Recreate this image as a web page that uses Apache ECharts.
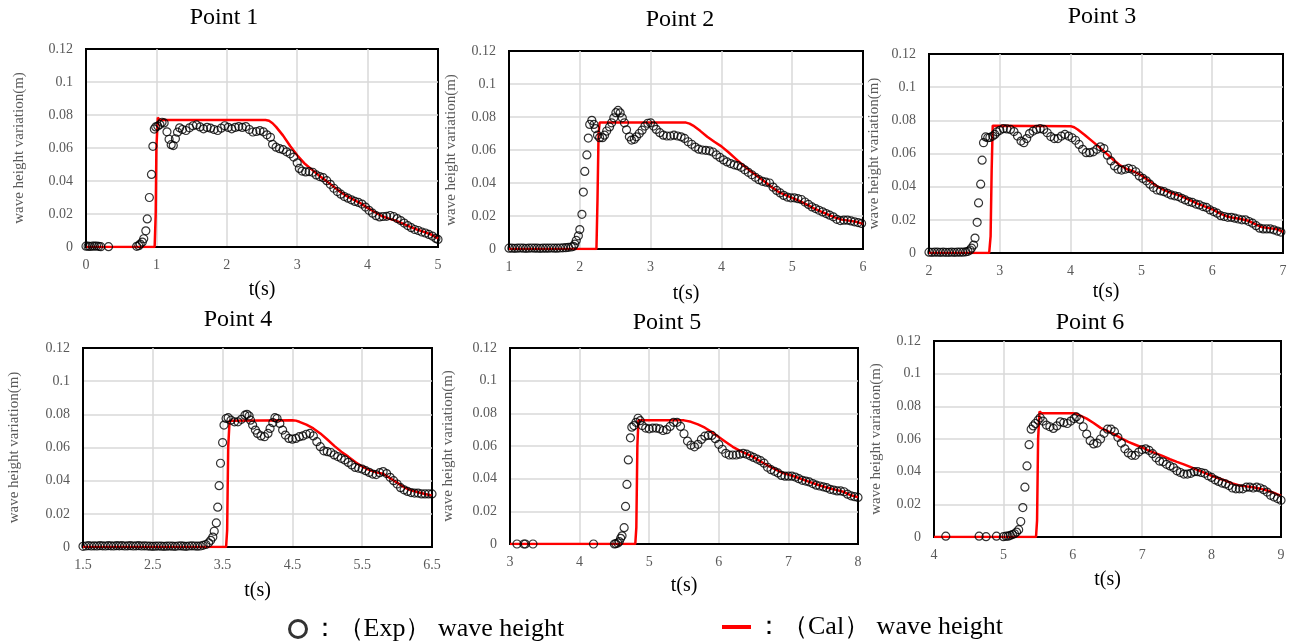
<!DOCTYPE html>
<html><head><meta charset="utf-8">
<script src="https://cdn.jsdelivr.net/npm/echarts@6/dist/echarts.min.js"></script>
<style>html,body{margin:0;padding:0;background:#fff}#c{width:1294px;height:644px}</style>
</head><body><div id="c"></div>
<script>
const panelTitles = ['Point 1','Point 2','Point 3','Point 4','Point 5','Point 6'];
const xMins = [0, 1, 2, 1.5, 3, 4];
const xMaxs = [5, 6, 7, 6.5, 8, 9];
const yMin = 0, yMax = 0.12, yStep = 0.02;
const yName = 'wave height variation(m)';
const xName = 't(s)';
const expLabel = '：（Exp） wave height';
const calLabel = '：（Cal） wave height';

const exp1 = [[0,0.0005],[0.03,0.0005],[0.06,0.0003],[0.09,0.0006],[0.12,0.0005],[0.15,0.0006],[0.18,0.0004],[0.21,0.0002],[0.32,0.0002],
[0.72,0.0004],[0.75,0.0008],[0.77,0.0018],[0.8,0.003],[0.82,0.005],[0.85,0.0098],[0.87,0.017],[0.9,0.03],[0.93,0.044],[0.95,0.061],[0.97,0.0715],[0.99,0.0728],[1.02,0.0733],[1.05,0.0742],[1.08,0.0756],[1.11,0.0752],[1.15,0.0698],[1.18,0.0653],[1.21,0.062],[1.24,0.0615],[1.27,0.0656],[1.3,0.0696],[1.33,0.0722],[1.37,0.0712],[1.42,0.0706],[1.47,0.0722],[1.52,0.0735],[1.57,0.074],[1.62,0.0728],[1.67,0.0716],[1.72,0.0725],[1.77,0.072],[1.82,0.0712],[1.87,0.0706],[1.92,0.072],[1.97,0.0735],[2.02,0.0725],[2.07,0.0716],[2.12,0.0725],[2.17,0.073],[2.22,0.0725],[2.27,0.073],[2.32,0.0712],[2.37,0.0697],[2.42,0.07],[2.47,0.0705],[2.52,0.0698],[2.57,0.068],[2.62,0.0665],[2.65,0.0622],[2.7,0.0605],[2.75,0.0596],[2.8,0.059],[2.85,0.0577],[2.9,0.0565],[2.95,0.0545],[3.0,0.051],[3.03,0.0476],[3.07,0.046],[3.12,0.0455],[3.17,0.0457],[3.22,0.0453],[3.27,0.0437],[3.32,0.0427],[3.37,0.042],[3.42,0.0402],[3.47,0.038],[3.52,0.0356],[3.57,0.0336],[3.62,0.032],[3.67,0.0306],[3.72,0.0296],[3.77,0.0286],[3.82,0.0276],[3.87,0.027],[3.92,0.026],[3.97,0.0242],[4.02,0.0222],[4.07,0.0205],[4.12,0.019],[4.17,0.0182],[4.22,0.0185],[4.27,0.0186],[4.32,0.0191],[4.37,0.0185],[4.42,0.0172],[4.47,0.016],[4.52,0.0145],[4.57,0.013],[4.62,0.0117],[4.67,0.0106],[4.72,0.01],[4.77,0.0091],[4.82,0.0085],[4.87,0.0076],[4.92,0.0066],[4.97,0.0052],[5.0,0.0046]];
const cal1 = [[0,0],[0.975,0],[0.99,0.02],[1.0,0.06],[1.02,0.0785],[1.04,0.077],[2.55,0.077],[2.6,0.0765],[2.65,0.075],[2.7,0.0728],[2.8,0.0675],[2.9,0.0612],[3.0,0.0556],[3.1,0.0508],[3.2,0.0472],[3.3,0.0437],[3.4,0.0405],[3.5,0.0372],[3.6,0.0338],[3.7,0.031],[3.8,0.0287],[3.9,0.0265],[4.0,0.0237],[4.1,0.0212],[4.2,0.0188],[4.3,0.0172],[4.4,0.016],[4.5,0.0142],[4.6,0.0123],[4.7,0.0106],[4.8,0.0092],[4.9,0.0076],[5.0,0.0052]];

const exp2 = [[1.0,0.0005],[1.04,0.0005],[1.08,0.0004],[1.12,0.0005],[1.16,0.0006],[1.2,0.0005],[1.24,0.0004],[1.28,0.0005],[1.32,0.0006],[1.36,0.0005],[1.4,0.0005],[1.44,0.0004],[1.48,0.0005],[1.52,0.0005],[1.56,0.0005],[1.6,0.0006],[1.64,0.0005],[1.68,0.0005],[1.72,0.0006],[1.76,0.0007],[1.8,0.0008],[1.84,0.001],[1.88,0.0012],[1.91,0.0016],[1.93,0.003],[1.95,0.0052],[1.98,0.008],[2.0,0.0118],[2.03,0.021],[2.05,0.0345],[2.07,0.047],[2.1,0.057],[2.12,0.0672],[2.14,0.0755],[2.17,0.078],[2.2,0.0755],[2.22,0.073],[2.25,0.069],[2.28,0.0675],[2.32,0.0675],[2.35,0.069],[2.38,0.0715],[2.42,0.074],[2.45,0.0765],[2.48,0.0795],[2.51,0.0826],[2.54,0.084],[2.57,0.0825],[2.6,0.0795],[2.63,0.0765],[2.66,0.0722],[2.7,0.068],[2.73,0.066],[2.77,0.0665],[2.8,0.068],[2.84,0.07],[2.88,0.072],[2.92,0.0745],[2.96,0.0762],[3.0,0.0765],[3.04,0.0745],[3.08,0.0725],[3.13,0.0705],[3.18,0.069],[3.23,0.0685],[3.28,0.0685],[3.33,0.069],[3.38,0.0685],[3.43,0.068],[3.48,0.067],[3.53,0.065],[3.58,0.0635],[3.63,0.0618],[3.68,0.0605],[3.73,0.06],[3.78,0.0598],[3.83,0.0595],[3.88,0.0588],[3.93,0.057],[3.98,0.0555],[4.03,0.054],[4.08,0.0528],[4.13,0.0518],[4.18,0.051],[4.23,0.0505],[4.28,0.0495],[4.33,0.048],[4.38,0.0465],[4.43,0.045],[4.48,0.0435],[4.53,0.042],[4.58,0.041],[4.63,0.0405],[4.68,0.04],[4.73,0.0375],[4.78,0.0355],[4.83,0.034],[4.88,0.0325],[4.93,0.0315],[4.98,0.031],[5.03,0.031],[5.08,0.0305],[5.13,0.03],[5.18,0.0285],[5.23,0.027],[5.28,0.0255],[5.33,0.0245],[5.38,0.0235],[5.43,0.0225],[5.48,0.0215],[5.53,0.0205],[5.58,0.0195],[5.63,0.018],[5.68,0.0172],[5.73,0.0175],[5.78,0.0175],[5.83,0.017],[5.88,0.0165],[5.93,0.016],[5.98,0.0155]];
const cal2 = [[1,0],[2.235,0],[2.25,0.03],[2.265,0.07],[2.28,0.0766],[3.5,0.0766],[3.55,0.076],[3.6,0.0748],[3.7,0.0716],[3.8,0.068],[3.9,0.065],[4.0,0.0622],[4.1,0.0586],[4.2,0.0548],[4.3,0.051],[4.4,0.0476],[4.5,0.0444],[4.6,0.0412],[4.7,0.0378],[4.8,0.0348],[4.9,0.0328],[5.0,0.031],[5.1,0.0292],[5.2,0.027],[5.3,0.0248],[5.4,0.0228],[5.5,0.021],[5.6,0.0192],[5.7,0.0178],[5.8,0.0172],[5.9,0.0165],[6.0,0.0152]];

const exp3 = [[2.0,0.0005],[2.04,0.0004],[2.08,0.0005],[2.12,0.0005],[2.16,0.0004],[2.2,0.0005],[2.24,0.0004],[2.28,0.0004],[2.32,0.0005],[2.36,0.0004],[2.4,0.0005],[2.44,0.0005],[2.48,0.0005],[2.52,0.0007],[2.55,0.001],[2.58,0.0018],[2.6,0.003],[2.63,0.0048],[2.65,0.009],[2.68,0.0185],[2.7,0.0302],[2.73,0.0415],[2.75,0.056],[2.77,0.0665],[2.8,0.07],[2.83,0.0695],[2.86,0.0697],[2.9,0.0705],[2.93,0.0715],[2.96,0.073],[3.0,0.074],[3.05,0.075],[3.1,0.0748],[3.15,0.0745],[3.2,0.0732],[3.25,0.0705],[3.3,0.0675],[3.34,0.0665],[3.38,0.069],[3.42,0.072],[3.47,0.0735],[3.52,0.0745],[3.57,0.075],[3.62,0.0745],[3.67,0.0725],[3.72,0.0702],[3.77,0.069],[3.82,0.069],[3.87,0.0705],[3.92,0.0715],[3.97,0.0705],[4.02,0.0695],[4.07,0.068],[4.12,0.0655],[4.17,0.0625],[4.22,0.0605],[4.27,0.0605],[4.32,0.061],[4.37,0.0625],[4.42,0.064],[4.47,0.063],[4.52,0.059],[4.57,0.0555],[4.62,0.0525],[4.67,0.0505],[4.72,0.05],[4.77,0.0505],[4.82,0.051],[4.87,0.0505],[4.92,0.049],[4.97,0.0465],[5.02,0.045],[5.07,0.0435],[5.12,0.0415],[5.17,0.0395],[5.22,0.038],[5.27,0.0375],[5.32,0.037],[5.37,0.036],[5.42,0.035],[5.47,0.0345],[5.52,0.034],[5.57,0.033],[5.62,0.032],[5.67,0.031],[5.72,0.0305],[5.77,0.0295],[5.82,0.029],[5.87,0.028],[5.92,0.0275],[5.97,0.026],[6.02,0.025],[6.07,0.024],[6.12,0.0225],[6.17,0.022],[6.22,0.0215],[6.27,0.0215],[6.32,0.021],[6.37,0.0205],[6.42,0.02],[6.47,0.02],[6.52,0.019],[6.57,0.018],[6.62,0.0165],[6.67,0.015],[6.72,0.0145],[6.77,0.0145],[6.82,0.0145],[6.87,0.014],[6.92,0.0132],[6.97,0.0126]];
const cal3 = [[2,0],[2.85,0],[2.87,0.01],[2.885,0.05],[2.9,0.0768],[4.0,0.0765],[4.05,0.0758],[4.1,0.0745],[4.2,0.0712],[4.3,0.0676],[4.4,0.064],[4.5,0.0602],[4.6,0.0564],[4.7,0.0528],[4.8,0.0505],[4.9,0.049],[5.0,0.0468],[5.1,0.0438],[5.2,0.0408],[5.3,0.0384],[5.4,0.0366],[5.5,0.0352],[5.6,0.0336],[5.7,0.0316],[5.8,0.0296],[5.9,0.028],[6.0,0.0264],[6.1,0.024],[6.2,0.0222],[6.3,0.0212],[6.4,0.0205],[6.5,0.0196],[6.6,0.0176],[6.7,0.0156],[6.8,0.015],[6.9,0.0145],[7.0,0.0128]];

const exp4 = [[1.5,0.0004],[1.54,0.0006],[1.58,0.0008],[1.62,0.0006],[1.66,0.0007],[1.7,0.0006],[1.74,0.0008],[1.78,0.0007],[1.82,0.0006],[1.86,0.0008],[1.9,0.0007],[1.94,0.0006],[1.98,0.0008],[2.02,0.0007],[2.06,0.0008],[2.1,0.0006],[2.14,0.0007],[2.18,0.0008],[2.22,0.0006],[2.26,0.0007],[2.3,0.0008],[2.34,0.0006],[2.38,0.0007],[2.42,0.0006],[2.46,0.0005],[2.5,0.0004],[2.54,0.0005],[2.58,0.0006],[2.62,0.0005],[2.66,0.0004],[2.7,0.0005],[2.74,0.0006],[2.78,0.0005],[2.82,0.0004],[2.86,0.0006],[2.9,0.0007],[2.94,0.0005],[2.98,0.0004],[3.02,0.0006],[3.06,0.0007],[3.1,0.0006],[3.14,0.0005],[3.18,0.0006],[3.22,0.001],[3.26,0.0015],[3.3,0.0025],[3.33,0.004],[3.36,0.006],[3.38,0.0095],[3.41,0.0145],[3.43,0.024],[3.45,0.037],[3.47,0.0505],[3.5,0.063],[3.52,0.0735],[3.55,0.0775],[3.58,0.078],[3.62,0.0765],[3.67,0.0755],[3.72,0.0755],[3.77,0.077],[3.82,0.0795],[3.85,0.08],[3.88,0.079],[3.9,0.0765],[3.93,0.0735],[3.97,0.0705],[4.0,0.0685],[4.05,0.067],[4.1,0.0665],[4.15,0.0685],[4.18,0.0715],[4.22,0.075],[4.25,0.078],[4.28,0.0775],[4.32,0.0745],[4.36,0.0705],[4.4,0.0675],[4.45,0.0655],[4.5,0.065],[4.55,0.0655],[4.6,0.0665],[4.65,0.067],[4.7,0.068],[4.75,0.0685],[4.8,0.067],[4.85,0.0635],[4.9,0.0605],[4.95,0.058],[5.0,0.0575],[5.05,0.057],[5.1,0.0555],[5.15,0.0545],[5.2,0.0535],[5.25,0.0525],[5.3,0.051],[5.35,0.0495],[5.4,0.048],[5.45,0.0475],[5.5,0.047],[5.55,0.046],[5.6,0.045],[5.65,0.044],[5.7,0.0437],[5.75,0.0448],[5.8,0.0455],[5.85,0.0443],[5.9,0.042],[5.95,0.04],[6.0,0.038],[6.05,0.0358],[6.1,0.0345],[6.15,0.0335],[6.2,0.0328],[6.25,0.0325],[6.3,0.0325],[6.35,0.032],[6.4,0.032],[6.45,0.032],[6.5,0.032]];
const cal4 = [[1.5,0],[3.55,0],[3.565,0.01],[3.58,0.06],[3.6,0.0762],[4.5,0.0765],[4.55,0.0762],[4.6,0.0755],[4.7,0.0738],[4.8,0.0715],[4.9,0.0685],[5.0,0.0648],[5.1,0.061],[5.2,0.0575],[5.3,0.0545],[5.4,0.0512],[5.5,0.0485],[5.6,0.0465],[5.7,0.045],[5.8,0.0442],[5.9,0.0415],[6.0,0.0388],[6.1,0.036],[6.2,0.0342],[6.3,0.033],[6.4,0.032],[6.5,0.031]];

const exp5 = [[3.1,0],[3.2,0],[3.22,0],[3.33,0],[4.2,0],[4.5,0],[4.52,0.0002],[4.55,0.0006],[4.57,0.0015],[4.59,0.0035],[4.61,0.005],[4.64,0.01],[4.66,0.023],[4.68,0.0365],[4.7,0.0515],[4.73,0.065],[4.75,0.0715],[4.78,0.0725],[4.81,0.0745],[4.84,0.077],[4.87,0.0755],[4.9,0.0725],[4.95,0.071],[5.0,0.0705],[5.05,0.071],[5.1,0.071],[5.15,0.0705],[5.2,0.0695],[5.25,0.07],[5.3,0.072],[5.35,0.0745],[5.4,0.0745],[5.45,0.072],[5.5,0.0675],[5.55,0.063],[5.6,0.0605],[5.65,0.0595],[5.7,0.061],[5.75,0.064],[5.8,0.066],[5.85,0.0665],[5.9,0.0665],[5.95,0.0645],[6.0,0.061],[6.05,0.058],[6.1,0.0555],[6.15,0.0545],[6.2,0.0545],[6.25,0.0545],[6.3,0.055],[6.35,0.0555],[6.4,0.055],[6.45,0.054],[6.5,0.053],[6.55,0.052],[6.6,0.051],[6.65,0.0495],[6.7,0.047],[6.75,0.0455],[6.8,0.0445],[6.85,0.0435],[6.9,0.042],[6.95,0.0415],[7.0,0.0415],[7.05,0.0415],[7.1,0.041],[7.15,0.04],[7.2,0.039],[7.25,0.0385],[7.3,0.038],[7.35,0.037],[7.4,0.036],[7.45,0.0355],[7.5,0.035],[7.55,0.0345],[7.6,0.0335],[7.65,0.033],[7.7,0.0325],[7.75,0.0325],[7.8,0.032],[7.85,0.0305],[7.9,0.0295],[7.95,0.029],[8.0,0.0285]];
const cal5 = [[3,0],[4.8,0],[4.815,0.01],[4.83,0.06],[4.845,0.0757],[5.5,0.0757],[5.6,0.0748],[5.7,0.0732],[5.8,0.0712],[5.9,0.0685],[6.0,0.0655],[6.1,0.0625],[6.2,0.0595],[6.3,0.0572],[6.4,0.0552],[6.5,0.0532],[6.6,0.0505],[6.7,0.0482],[6.8,0.046],[6.9,0.0438],[7.0,0.0425],[7.1,0.0412],[7.2,0.0396],[7.3,0.038],[7.4,0.0366],[7.5,0.0352],[7.6,0.034],[7.7,0.033],[7.8,0.0318],[7.9,0.0298],[8.0,0.0286]];

const exp6 = [[4.17,0.0005],[4.65,0.0005],[4.75,0.0002],[4.9,0.0005],[5.0,0.0002],[5.04,0.0005],[5.07,0.0005],[5.1,0.001],[5.13,0.0015],[5.16,0.002],[5.19,0.003],[5.22,0.0045],[5.25,0.0095],[5.28,0.018],[5.31,0.0305],[5.34,0.0435],[5.37,0.0565],[5.4,0.066],[5.43,0.068],[5.46,0.0695],[5.5,0.0715],[5.53,0.073],[5.57,0.071],[5.62,0.0685],[5.67,0.0675],[5.72,0.0665],[5.77,0.068],[5.82,0.0705],[5.87,0.07],[5.92,0.0695],[5.97,0.071],[6.02,0.0725],[6.05,0.0735],[6.1,0.072],[6.15,0.0675],[6.2,0.063],[6.25,0.059],[6.3,0.057],[6.35,0.0575],[6.4,0.06],[6.45,0.0635],[6.5,0.066],[6.55,0.066],[6.6,0.0645],[6.65,0.061],[6.7,0.0575],[6.75,0.054],[6.8,0.0515],[6.85,0.05],[6.9,0.05],[6.95,0.052],[7.0,0.0535],[7.05,0.054],[7.1,0.053],[7.15,0.051],[7.2,0.0485],[7.25,0.0465],[7.3,0.046],[7.35,0.0445],[7.4,0.0435],[7.45,0.0425],[7.5,0.0405],[7.55,0.0395],[7.6,0.0385],[7.65,0.0385],[7.7,0.039],[7.75,0.04],[7.8,0.04],[7.85,0.0395],[7.9,0.039],[7.95,0.0375],[8.0,0.0365],[8.05,0.035],[8.1,0.034],[8.15,0.033],[8.2,0.0325],[8.25,0.0315],[8.3,0.03],[8.35,0.0295],[8.4,0.0295],[8.45,0.0295],[8.5,0.0305],[8.55,0.0305],[8.6,0.03],[8.65,0.0305],[8.7,0.03],[8.75,0.029],[8.8,0.0275],[8.85,0.0255],[8.9,0.0245],[8.95,0.0235],[9.0,0.0225]];
const cal6 = [[4,0],[5.47,0],[5.485,0.01],[5.5,0.06],[5.52,0.0768],[5.55,0.0758],[6.0,0.0758],[6.05,0.0755],[6.1,0.0745],[6.2,0.0725],[6.3,0.0698],[6.4,0.0668],[6.5,0.0648],[6.6,0.0628],[6.7,0.0604],[6.8,0.0582],[6.9,0.0565],[7.0,0.0548],[7.1,0.0528],[7.2,0.0512],[7.3,0.0495],[7.4,0.0476],[7.5,0.046],[7.6,0.0445],[7.7,0.0428],[7.8,0.041],[7.9,0.0393],[8.0,0.0375],[8.1,0.036],[8.2,0.0345],[8.3,0.0328],[8.4,0.0315],[8.5,0.031],[8.6,0.0305],[8.7,0.0296],[8.8,0.0285],[8.9,0.027],[9.0,0.0252]];

const expSets = [exp1, exp2, exp3, exp4, exp5, exp6];
const calSets = [cal1, cal2, cal3, cal4, cal5, cal6];

// layout (pixels)
const grids = [
  {left:86, top:49, width:352, height:198},
  {left:509, top:51, width:354, height:198},
  {left:929, top:54, width:354, height:199},
  {left:83, top:348, width:349, height:199},
  {left:510, top:348, width:348, height:196},
  {left:934, top:341, width:347, height:196}
];
const yNameGaps = [59, 50, 47, 61, 54, 50];
const xNameGaps = [33, 35, 29, 34, 32, 33];
const titlePos = [[224,18],[680,20],[1102,17],[238,320],[667,323],[1090,323]];

const SERIF = '"Liberation Serif", "Times New Roman", serif';
const GRAY = '#595959';

const option = {
  animation: false,
  backgroundColor: '#fff',
  grid: grids.map(g => Object.assign({show:true, borderColor:'#000', borderWidth:2, backgroundColor:'rgba(0,0,0,0)'}, g)),
  xAxis: grids.map((g, i) => ({
    type: 'value', gridIndex: i, min: xMins[i], max: xMaxs[i], interval: 1,
    name: xName, nameLocation: 'middle', nameGap: xNameGaps[i],
    nameTextStyle: {fontFamily: SERIF, fontSize: 20, color: '#000'},
    axisLine: {show: true, lineStyle: {color: '#000', width: 2}},
    axisTick: {show: false},
    axisLabel: {fontFamily: SERIF, fontSize: 14, color: GRAY, margin: 11},
    splitLine: {show: true, showMinLine: false, showMaxLine: false, lineStyle: {color: '#d9d9d9', width: 1.5}}
  })),
  yAxis: grids.map((g, i) => ({
    type: 'value', gridIndex: i, min: yMin, max: yMax, interval: yStep,
    name: yName, nameLocation: 'middle', nameGap: yNameGaps[i], nameRotate: 90,
    nameTextStyle: {fontFamily: SERIF, fontSize: 15, color: GRAY},
    axisLine: {show: true, lineStyle: {color: '#000', width: 2}},
    axisTick: {show: false},
    axisLabel: {fontFamily: SERIF, fontSize: 14, color: GRAY, margin: 13},
    splitLine: {show: true, showMinLine: false, showMaxLine: false, lineStyle: {color: '#d9d9d9', width: 1.5}}
  })),
  legend: [
    {data: [{name: 'Exp', icon: 'circle', itemStyle: {color: 'rgba(0,0,0,0)', borderColor: '#000', borderWidth: 3}}],
     left: 283, top: 611, itemWidth: 17, itemHeight: 17, itemGap: 6,
     formatter: () => expLabel, selectedMode: false,
     textStyle: {fontFamily: SERIF, fontSize: 26, color: '#000'}},
    {data: [{name: 'Cal', icon: 'rect', itemStyle: {color: '#ff0000'}}],
     left: 717, top: 609, itemWidth: 29, itemHeight: 4, itemGap: 6,
     formatter: () => calLabel, selectedMode: false,
     textStyle: {fontFamily: SERIF, fontSize: 26, color: '#000'}}
  ],
  graphic: panelTitles.map((t, i) => ({
    type: 'text', x: titlePos[i][0], y: titlePos[i][1],
    style: {text: t, fill: '#000', font: '24px ' + SERIF, textAlign: 'center', textVerticalAlign: 'middle'}
  })),
  series: []
};

for (let i = 0; i < 6; i++) {
  option.series.push({
    name: 'Cal', type: 'line', xAxisIndex: i, yAxisIndex: i, data: calSets[i],
    showSymbol: false, symbol: 'none', z: 2,
    lineStyle: {color: '#ff0000', width: 2.5}, itemStyle: {color: '#ff0000'}
  });
  option.series.push({
    name: 'Exp', type: 'scatter', xAxisIndex: i, yAxisIndex: i, data: expSets[i],
    symbol: 'circle', symbolSize: 8, z: 3,
    itemStyle: {color: 'rgba(0,0,0,0)', borderColor: '#000', borderWidth: 1.2}
  });
}

const chart = echarts.init(document.getElementById('c'), null, {renderer: 'canvas'});
chart.setOption(option);
</script>
</body></html>
